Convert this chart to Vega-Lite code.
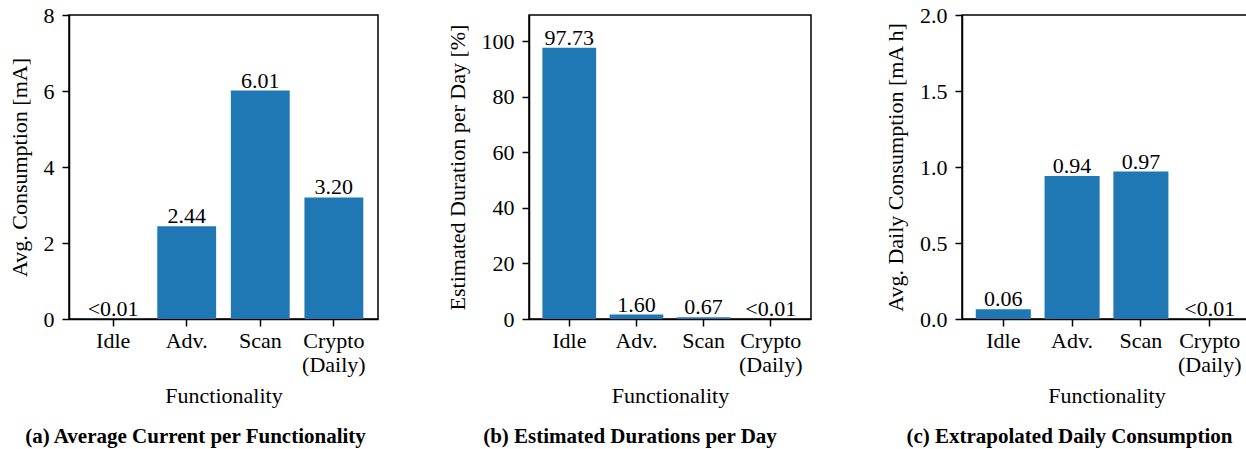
{
  "$schema": "https://vega.github.io/schema/vega-lite/v6.json",
  "autosize": {"type": "pad"},
  "padding": {"left": 7, "top": 3, "right": 0, "bottom": 0},
  "background": "white",
  "spacing": 151,
  "bounds": "flush",
  "config": {
    "font": "Liberation Serif",
    "view": {"stroke": "black", "strokeWidth": 1.5},
    "axis": {
      "labelFont": "Liberation Serif", "titleFont": "Liberation Serif",
      "labelFontSize": 22, "titleFontSize": 22, "titleFontWeight": "normal",
      "labelColor": "black", "titleColor": "black",
      "domainColor": "black", "tickColor": "black",
      "domainWidth": 1.5, "tickWidth": 1.5, "tickSize": 7,
      "grid": false
    },
    "axisX": {"labelAngle": 0, "labelLineHeight": 24, "labelBaseline": "top", "labelPadding": 4, "titlePadding": 10},
    "axisY": {"labelPadding": 8, "titlePadding": 12},
    "title": {"font": "Liberation Serif", "fontSize": 21, "fontWeight": "bold", "color": "black", "orient": "bottom", "anchor": "middle", "offset": 20}
  },
  "hconcat": [
    {
      "width": 309, "height": 304,
      "title": {"text": "(a) Average Current per Functionality", "dx": -28},
      "data": {"values": [
        {"func": "Idle", "value": 0.004, "label": "<0.01"},
        {"func": "Adv.", "value": 2.44, "label": "2.44"},
        {"func": "Scan", "value": 6.01, "label": "6.01"},
        {"func": "Crypto (Daily)", "value": 3.20, "label": "3.20"}
      ]},
      "encoding": {
        "x": {"field": "func", "type": "nominal", "sort": null,
          "scale": {"paddingInner": 0.2, "paddingOuter": 0.2},
          "axis": {"title": "Functionality", "labelExpr": "datum.label == 'Crypto (Daily)' ? ['Crypto', '(Daily)'] : datum.label"}},
        "y": {"field": "value", "type": "quantitative",
          "scale": {"domain": [0, 8], "nice": false},
          "axis": {"title": "Avg. Consumption [mA]", "values": [0, 2, 4, 6, 8]}}
      },
      "layer": [
        {"mark": {"type": "bar", "color": "#1f77b4"}},
        {"mark": {"type": "text", "baseline": "alphabetic", "dy": -3, "fontSize": 22, "color": "black"},
         "encoding": {"text": {"field": "label"}}}
      ]
    },
    {
      "width": 282, "height": 304,
      "title": {"text": "(b) Estimated Durations per Day", "dx": -40},
      "data": {"values": [
        {"func": "Idle", "value": 97.73, "label": "97.73"},
        {"func": "Adv.", "value": 1.60, "label": "1.60"},
        {"func": "Scan", "value": 0.67, "label": "0.67"},
        {"func": "Crypto (Daily)", "value": 0.004, "label": "<0.01"}
      ]},
      "encoding": {
        "x": {"field": "func", "type": "nominal", "sort": null,
          "scale": {"paddingInner": 0.2, "paddingOuter": 0.2},
          "axis": {"title": "Functionality", "labelExpr": "datum.label == 'Crypto (Daily)' ? ['Crypto', '(Daily)'] : datum.label"}},
        "y": {"field": "value", "type": "quantitative",
          "scale": {"domain": [0, 109.5], "nice": false},
          "axis": {"title": "Estimated Duration per Day [%]", "values": [0, 20, 40, 60, 80, 100]}}
      },
      "layer": [
        {"mark": {"type": "bar", "color": "#1f77b4"}},
        {"mark": {"type": "text", "baseline": "alphabetic", "dy": -3, "fontSize": 22, "color": "black"},
         "encoding": {"text": {"field": "label"}}}
      ]
    },
    {
      "width": 289, "height": 304,
      "title": {"text": "(c) Extrapolated Daily Consumption", "dx": -37},
      "data": {"values": [
        {"func": "Idle", "value": 0.064, "label": "0.06"},
        {"func": "Adv.", "value": 0.94, "label": "0.94"},
        {"func": "Scan", "value": 0.97, "label": "0.97"},
        {"func": "Crypto (Daily)", "value": 0.001, "label": "<0.01"}
      ]},
      "encoding": {
        "x": {"field": "func", "type": "nominal", "sort": null,
          "scale": {"paddingInner": 0.2, "paddingOuter": 0.2},
          "axis": {"title": "Functionality", "labelExpr": "datum.label == 'Crypto (Daily)' ? ['Crypto', '(Daily)'] : datum.label"}},
        "y": {"field": "value", "type": "quantitative",
          "scale": {"domain": [0, 2], "nice": false},
          "axis": {"title": "Avg. Daily Consumption [mA h]", "values": [0, 0.5, 1, 1.5, 2], "format": ".1f"}}
      },
      "layer": [
        {"mark": {"type": "bar", "color": "#1f77b4"}},
        {"mark": {"type": "text", "baseline": "alphabetic", "dy": -3, "fontSize": 22, "color": "black"},
         "encoding": {"text": {"field": "label"}}}
      ]
    }
  ]
}
